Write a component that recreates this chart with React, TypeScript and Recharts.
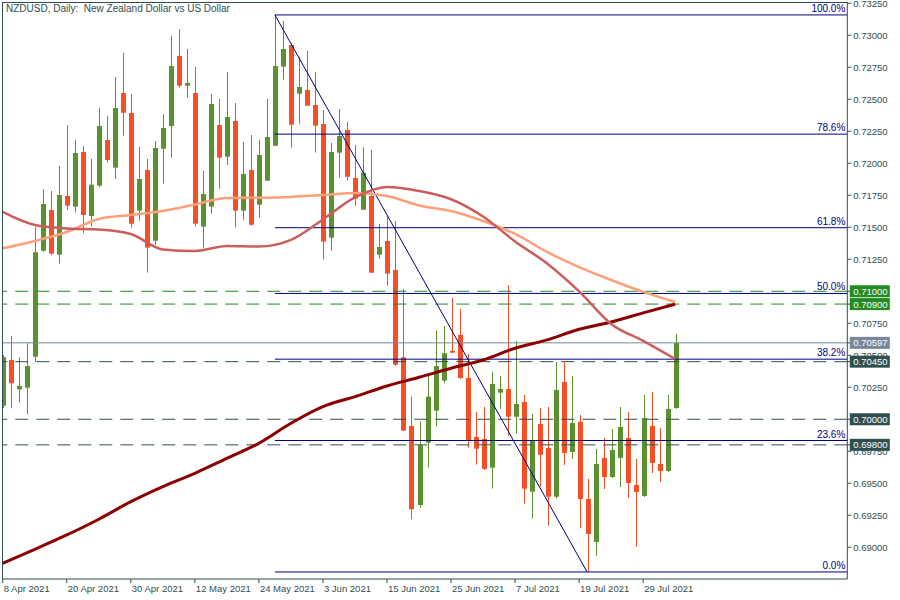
import { Bar, ComposedChart, Line, ReferenceLine, XAxis, YAxis } from "recharts";

// NZDUSD daily, 8 Apr 2021 .. 4 Aug 2021 (one entry per trading day)
const opens = [
  0.70106, 0.70463, 0.70234, 0.70247, 0.70489, 0.71317, 0.71635, 0.71286, 0.71745, 0.71661,
  0.72088, 0.71588, 0.71825, 0.72182, 0.71966, 0.72549, 0.72393, 0.7163, 0.71948, 0.71395,
  0.72114, 0.72291, 0.72838, 0.72606, 0.72549, 0.71505, 0.71661, 0.72299, 0.72052, 0.72331,
  0.7163, 0.71948, 0.71677, 0.71864, 0.72137, 0.72755, 0.72924, 0.72544, 0.72573, 0.72456,
  0.72307, 0.71419, 0.72083, 0.7226, 0.71885, 0.71638, 0.71745, 0.71286, 0.71393, 0.71166,
  0.70484, 0.69948, 0.6933, 0.69817, 0.70067, 0.70302, 0.70534, 0.70659, 0.70323, 0.69862,
  0.69846, 0.69622, 0.70208, 0.70237, 0.7002, 0.70135, 0.69434, 0.69963, 0.69776, 0.69395,
  0.70291, 0.69745, 0.69979, 0.69377, 0.69041, 0.69698, 0.69549, 0.69698, 0.69854, 0.69487,
  0.69401, 0.69948, 0.69651, 0.69596, 0.70088,
];
const highs = [
  0.70502, 0.70651, 0.70484, 0.70594, 0.715, 0.71797, 0.71784, 0.71979, 0.72299, 0.72182,
  0.72135, 0.72034, 0.72432, 0.7237, 0.72674, 0.72862, 0.72541, 0.72127, 0.72034, 0.72174,
  0.72385, 0.72995, 0.73049, 0.72893, 0.72752, 0.7194, 0.72541, 0.72502, 0.72713, 0.72471,
  0.72166, 0.72221, 0.72182, 0.72502, 0.73159, 0.73112, 0.7294, 0.72831, 0.72877, 0.72713,
  0.72416, 0.72159, 0.72424, 0.72325, 0.72143, 0.72125, 0.72104, 0.71526, 0.71588, 0.71549,
  0.71018, 0.70177, 0.69984, 0.70338, 0.70692, 0.70729, 0.70948, 0.70862, 0.7051, 0.70057,
  0.70096, 0.7037, 0.70338, 0.71049, 0.70612, 0.7019, 0.70041, 0.70088, 0.70096, 0.70448,
  0.70445, 0.70338, 0.70034, 0.69534, 0.69768, 0.69854, 0.69924, 0.70096, 0.70057, 0.6969,
  0.7019, 0.70213, 0.69932, 0.7019, 0.70666,
];
const lows = [
  0.70088, 0.70086, 0.7013, 0.70039, 0.7045, 0.71307, 0.71284, 0.71216, 0.71635, 0.71617,
  0.71453, 0.71505, 0.71815, 0.72005, 0.71877, 0.72216, 0.71497, 0.71552, 0.71145, 0.71364,
  0.71841, 0.72044, 0.72591, 0.72513, 0.71505, 0.71341, 0.71606, 0.71802, 0.71987, 0.71497,
  0.71559, 0.71513, 0.71575, 0.71862, 0.72135, 0.72653, 0.72122, 0.72309, 0.72448, 0.72083,
  0.71247, 0.71317, 0.71888, 0.71864, 0.71666, 0.71635, 0.71143, 0.71255, 0.71044, 0.70416,
  0.69909, 0.69219, 0.69309, 0.69622, 0.69942, 0.70281, 0.70518, 0.70315, 0.69778, 0.69645,
  0.69604, 0.69458, 0.70081, 0.69872, 0.69888, 0.69341, 0.69224, 0.69474, 0.69169, 0.6938,
  0.69643, 0.6969, 0.69151, 0.68807, 0.68932, 0.69455, 0.69541, 0.69471, 0.69385, 0.69002,
  0.69393, 0.6958, 0.6951, 0.69588, 0.70081,
];
const closes = [
  0.70484, 0.70281, 0.7026, 0.70416, 0.71305, 0.71682, 0.71294, 0.71752, 0.71669, 0.7208,
  0.71596, 0.71833, 0.72291, 0.72026, 0.72432, 0.72395, 0.71528, 0.71877, 0.71341, 0.7212,
  0.72276, 0.7276, 0.72606, 0.72627, 0.71528, 0.7176, 0.72463, 0.72044, 0.72362, 0.7163,
  0.71916, 0.7152, 0.72065, 0.72205, 0.7276, 0.72893, 0.72302, 0.72596, 0.7245, 0.72294,
  0.71388, 0.72088, 0.72213, 0.71895, 0.71724, 0.71927, 0.71145, 0.71346, 0.71138, 0.70427,
  0.69911, 0.69297, 0.69797, 0.70177, 0.70416, 0.70516, 0.7052, 0.70323, 0.69838, 0.6977,
  0.69612, 0.70276, 0.70237, 0.7002, 0.7012, 0.69458, 0.69833, 0.69723, 0.69395, 0.70229,
  0.69737, 0.69971, 0.69377, 0.69104, 0.69651, 0.69549, 0.6976, 0.6994, 0.69502, 0.69432,
  0.7001, 0.69659, 0.69596, 0.70081, 0.70597,
];

// moving averages, read every 4th bar
const maStep = 4;
const maFast = [
  0.7162, 0.71518, 0.71491, 0.71483, 0.71448, 0.71327, 0.71315, 0.71354, 0.71349, 0.71401, 0.71561,
  0.71733, 0.71815, 0.71784, 0.71719, 0.71584, 0.71389, 0.71217, 0.70999, 0.70745, 0.70612, 0.70471,
];
const maMid = [
  0.71336, 0.71393, 0.71463, 0.71565, 0.71596, 0.71627, 0.71678, 0.71729, 0.71731, 0.71737, 0.71752,
  0.71768, 0.71745, 0.7167, 0.71627, 0.71549, 0.71448, 0.71307, 0.71188, 0.71088, 0.70995, 0.70916,
];
const maSlow = [
  0.68875, 0.68984, 0.69096, 0.69219, 0.69356, 0.69474, 0.69578, 0.69695, 0.69813, 0.69969, 0.70099,
  0.70177, 0.7026, 0.70328, 0.70399, 0.70463, 0.70555, 0.7062, 0.70703, 0.7076, 0.70831, 0.70899,
];

const dateTicks = [0, 8, 16, 24, 32, 40, 48, 56, 64, 72, 80];
const dateLabels = [
  "8 Apr 2021", "20 Apr 2021", "30 Apr 2021", "12 May 2021", "24 May 2021", "3 Jun 2021",
  "15 Jun 2021", "25 Jun 2021", "7 Jul 2021", "19 Jul 2021", "29 Jul 2021",
];
const priceTicks = [
  0.69, 0.6925, 0.695, 0.6975, 0.7, 0.7025, 0.705, 0.7075, 0.71, 0.7125, 0.715, 0.7175,
  0.72, 0.7225, 0.725, 0.7275, 0.73, 0.7325,
];

// fibonacci retracement from the 24 May high to the 19 Jul low
const fibStart = 34;
const fibEnd = 73;
const fibHigh = 0.73159;
const fibLow = 0.68807;
const fibLevels = [0, 23.6, 38.2, 50, 61.8, 78.6, 100];

const greenLevels = [0.71, 0.709];
const darkLevels = [0.7045, 0.7, 0.698];
const lastPrice = 0.70597;

const GREEN = "#5b9130";
const RED = "#f44f26";
const NAVY = "#000080";
const AXIS = "#2f4f4f";
const LINE_GREEN = "#228b22";
const GREY = "#778899";
const FONT = "'Liberation Sans', Arial, sans-serif";
const X_MAX = 105.5;

const boxColor = new Map<number, string>();
greenLevels.forEach((v) => boxColor.set(v, LINE_GREEN));
darkLevels.forEach((v) => boxColor.set(v, AXIS));
boxColor.set(lastPrice, GREY);

// plain ticks first, boxed levels last so they paint over the plain labels
const axisTicks = [
  ...priceTicks.filter((v) => !boxColor.has(v)),
  ...darkLevels,
  lastPrice,
  ...greenLevels,
];

const rows = opens.map((open, i) => ({
  i,
  open,
  close: closes[i],
  high: highs[i],
  low: lows[i],
  range: [lows[i], highs[i]],
  maFast: i % maStep === 0 ? maFast[i / maStep] : null,
  maMid: i % maStep === 0 ? maMid[i / maStep] : null,
  maSlow: i % maStep === 0 ? maSlow[i / maStep] : null,
}));

function Candle(props: any) {
  const { x, y, width, height, payload } = props;
  if (!payload || height == null) return null;
  const { open, close, high, low } = payload;
  const color = close >= open ? GREEN : RED;
  const k = high === low ? 0 : height / (high - low);
  const top = y + (high - Math.max(open, close)) * k;
  const bottom = y + (high - Math.min(open, close)) * k;
  const cx = Math.round(x + width / 2) + 0.5;
  return (
    <g>
      <line x1={cx} x2={cx} y1={y} y2={y + height} stroke={color} strokeWidth={1} />
      <rect x={cx - 2.5} y={top} width={5} height={Math.max(bottom - top, 1)} fill={color} />
    </g>
  );
}

function fibLabel(text: string) {
  return (props: any) => {
    const vb = props.viewBox;
    if (!vb) return null;
    return (
      <text x={vb.x + vb.width - 2} y={vb.y - 3} textAnchor="end" fill={NAVY} fontSize={10} fontFamily={FONT}>
        {text}
      </text>
    );
  };
}

function DateTick(props: any) {
  const { x, y, payload } = props;
  const idx = dateTicks.indexOf(payload.value);
  return (
    <text x={x + 1} y={y + 9} fill={AXIS} fontSize={9.5} fontFamily={FONT}>
      {dateLabels[idx]}
    </text>
  );
}

function PriceTick(props: any) {
  const { x, y, payload } = props;
  const v: number = payload.value;
  const bg = boxColor.get(v);
  if (bg) {
    return (
      <g>
        <rect x={x - 3.5} y={y - 6} width={40} height={12} fill={bg} />
        <text x={x} y={y + 3.5} fill="#fff" fontSize={9.5} fontFamily={FONT}>
          {v.toFixed(5)}
        </text>
      </g>
    );
  }
  return (
    <text x={x} y={y + 3.5} fill={AXIS} fontSize={9.5} fontFamily={FONT}>
      {v.toFixed(5)}
    </text>
  );
}

export default function App() {
  const fibRange = fibHigh - fibLow;
  return (
    <div style={{ position: "absolute", left: 0, top: 0, width: 900, height: 600, background: "#fff" }}>
      <ComposedChart
        width={900}
        height={600}
        data={rows}
        margin={{ top: 2, right: 0, bottom: 0, left: 2 }}
      >
        <XAxis
          dataKey="i"
          type="number"
          domain={[-0.09, X_MAX]}
          allowDataOverflow
          ticks={dateTicks}
          tick={<DateTick />}
          tickSize={4}
          tickMargin={0}
          height={21}
          stroke={AXIS}
          interval={0}
        />
        <YAxis
          orientation="right"
          type="number"
          domain={[0.68752, 0.7326]}
          allowDataOverflow
          ticks={axisTicks}
          tick={<PriceTick />}
          tickSize={4}
          tickMargin={2}
          width={52.7}
          stroke={AXIS}
          interval={0}
        />
        <Bar dataKey="range" barSize={5} shape={<Candle />} isAnimationActive={false} />
        {greenLevels.map((v) => (
          <ReferenceLine key={v} y={v} stroke={LINE_GREEN} strokeDasharray="13 8" />
        ))}
        {darkLevels.map((v) => (
          <ReferenceLine key={v} y={v} stroke={AXIS} strokeDasharray="13 8" />
        ))}
        <ReferenceLine y={lastPrice} stroke={GREY} />
        {fibLevels.map((pct) => {
          const level = fibLow + (fibRange * pct) / 100;
          return (
            <ReferenceLine
              key={pct}
              segment={[
                { x: fibStart, y: level },
                { x: X_MAX, y: level },
              ]}
              stroke={NAVY}
              label={fibLabel(pct.toFixed(1) + "%")}
            />
          );
        })}
        <ReferenceLine
          segment={[
            { x: fibStart, y: fibHigh },
            { x: fibEnd, y: fibLow },
          ]}
          stroke={NAVY}
        />
        <Line
          dataKey="maSlow"
          type="monotone"
          stroke="#8b0000"
          strokeWidth={3}
          dot={false}
          connectNulls
          isAnimationActive={false}
        />
        <Line
          dataKey="maMid"
          type="monotone"
          stroke="#ffa07a"
          strokeWidth={2.5}
          dot={false}
          connectNulls
          isAnimationActive={false}
        />
        <Line
          dataKey="maFast"
          type="monotone"
          stroke="#cd5c5c"
          strokeWidth={2.5}
          dot={false}
          connectNulls
          isAnimationActive={false}
        />
      </ComposedChart>
      <div
        style={{
          position: "absolute",
          left: 2,
          top: 2,
          width: 845,
          height: 577,
          borderTop: `1px solid ${AXIS}`,
          borderLeft: `1px solid ${AXIS}`,
          boxSizing: "border-box",
          pointerEvents: "none",
        }}
      />
      <div
        style={{
          position: "absolute",
          left: 6,
          top: 3,
          fontFamily: FONT,
          fontSize: 10,
          color: AXIS,
          whiteSpace: "pre",
        }}
      >
        {"NZDUSD, Daily:  New Zealand Dollar vs US Dollar"}
      </div>
    </div>
  );
}
